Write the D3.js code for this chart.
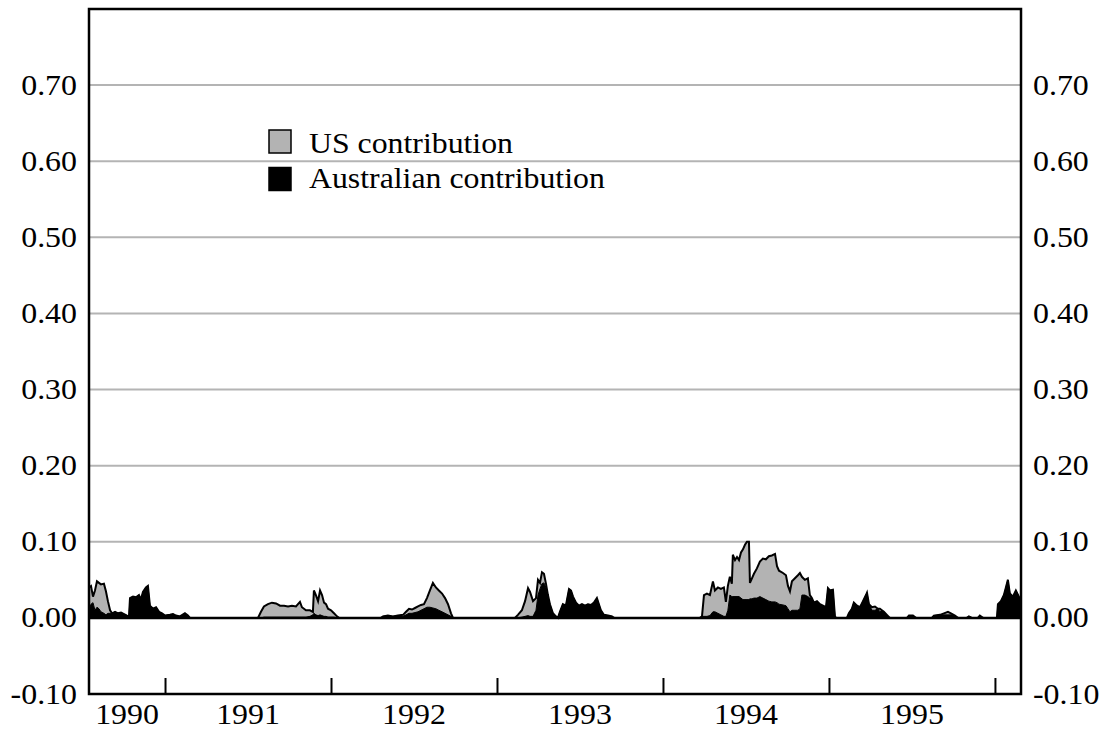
<!DOCTYPE html>
<html>
<head>
<meta charset="utf-8">
<script src="https://cdn.jsdelivr.net/npm/d3@7"></script>
<style>
  body { margin: 0; background: #fff; }
  text { font-family: "Liberation Serif", "Times New Roman", serif; fill: #000; }
</style>
</head>
<body>
<div id="chart"></div>
<script>
'use strict';

// observation dates as decimal years
const obsYear = [
    1990.542, 1990.554, 1990.566, 1990.578, 1990.590, 1990.602, 1990.614, 1990.632, 1990.644, 1990.656,
    1990.669, 1990.681, 1990.699, 1990.717, 1990.735, 1990.753, 1990.771, 1990.783, 1990.789, 1990.807,
    1990.825, 1990.843, 1990.855, 1990.867, 1990.885, 1990.897, 1990.909, 1990.928, 1990.946, 1990.964,
    1990.982, 1991.000, 1991.030, 1991.048, 1991.066, 1991.090, 1991.120, 1991.138, 1991.150,
    1991.560, 1991.578, 1991.596, 1991.620, 1991.644, 1991.669, 1991.693, 1991.717, 1991.741, 1991.765,
    1991.789, 1991.813, 1991.825, 1991.849, 1991.873, 1991.891, 1991.897, 1991.909, 1991.922, 1991.934,
    1991.946, 1991.958, 1991.970, 1991.982, 1992.000, 1992.018, 1992.036, 1992.048,
    1992.301, 1992.313, 1992.343, 1992.373, 1992.403, 1992.434, 1992.452, 1992.470, 1992.488, 1992.506,
    1992.524, 1992.542, 1992.560, 1992.578, 1992.596, 1992.614, 1992.632, 1992.650, 1992.669, 1992.687,
    1992.705, 1992.723, 1992.735,
    1993.108, 1993.126, 1993.150, 1993.169, 1993.187, 1993.199, 1993.217, 1993.235, 1993.247, 1993.259,
    1993.271, 1993.283, 1993.295, 1993.307, 1993.319, 1993.337, 1993.355, 1993.367, 1993.379, 1993.397,
    1993.415, 1993.434, 1993.446, 1993.458, 1993.476, 1993.494, 1993.512, 1993.530, 1993.548, 1993.566,
    1993.584, 1993.602, 1993.614, 1993.626, 1993.644, 1993.669, 1993.693, 1993.705,
    1994.223, 1994.235, 1994.247, 1994.265, 1994.283, 1994.301, 1994.313, 1994.331, 1994.349, 1994.367,
    1994.379, 1994.391, 1994.403, 1994.415, 1994.421, 1994.434, 1994.446, 1994.458, 1994.470, 1994.482,
    1994.494, 1994.506, 1994.518, 1994.524, 1994.536, 1994.548, 1994.566, 1994.584, 1994.602, 1994.620,
    1994.638, 1994.656, 1994.675, 1994.687, 1994.699, 1994.723, 1994.741, 1994.753, 1994.765, 1994.777,
    1994.795, 1994.813, 1994.825, 1994.837, 1994.855, 1994.873, 1994.885, 1994.897, 1994.909, 1994.928,
    1994.946, 1994.964, 1994.982, 1994.994, 1995.006, 1995.024, 1995.036, 1995.042,
    1995.108, 1995.120, 1995.138, 1995.150, 1995.169, 1995.187, 1995.205, 1995.223, 1995.229, 1995.241,
    1995.259, 1995.277, 1995.295, 1995.307, 1995.319, 1995.331, 1995.349, 1995.367,
    1995.470, 1995.482, 1995.506, 1995.524, 1995.620, 1995.632, 1995.669, 1995.693, 1995.717, 1995.735,
    1995.759, 1995.777, 1995.831, 1995.843, 1995.861, 1995.897, 1995.909, 1995.928,
    1996.012, 1996.018, 1996.036, 1996.054, 1996.066, 1996.078, 1996.090, 1996.108, 1996.126, 1996.144,
    1996.156
];

const ausContribution = [
    .012, .018, .020, .010, .014, .012, .008, .006, .004, .006,
    .006, .006, .008, .006, .007, .005, .003, .002, .026, .028,
    .027, .030, .024, .034, .040, .042, .016, .012, .014, .008,
    .006, .003, .004, .005, .003, .002, .006, .003, 0,
    0, 0, .001, .001, .001, .001, .001, .001, .001, .001,
    .001, .001, .001, .001, .002, .004, .006, .004, .003, .004,
    .003, .002, .002, .001, .001, .001, 0, 0,
    0, .002, .003, .002, .003, .002, .004, .006, .006, .007,
    .008, .010, .012, .014, .014, .013, .012, .010, .008, .006,
    .004, .002, 0,
    0, 0, .001, .002, .003, .002, .002, .010, .030, .038,
    .045, .046, .040, .028, .018, .006, .002, 0, .008, .018,
    .016, .038, .036, .028, .020, .016, .018, .016, .018, .017,
    .020, .026, .018, .010, .004, .003, .002, 0,
    0, .002, .002, .002, .003, .008, .008, .006, .004, .002,
    .002, .010, .030, .028, .028, .028, .028, .028, .026, .024,
    .024, .024, .024, .025, .025, .026, .026, .028, .026, .024,
    .022, .021, .021, .020, .018, .017, .016, .012, .008, .010,
    .010, .010, .012, .030, .030, .028, .026, .026, .020, .022,
    .018, .016, .014, .039, .036, .037, .002, 0,
    0, .006, .012, .020, .016, .014, .022, .030, .033, .018,
    .010, .010, .012, .008, .010, .008, .004, 0,
    0, .003, .003, 0, 0, .003, .004, .004, .004, .004,
    .003, 0, 0, .002, 0, 0, .003, 0,
    0, .018, .022, .030, .040, .050, .032, .028, .036, .028,
    .020
];

const usContribution = [
    .028, .024, .008, .026, .034, .034, .036, .039, .031, .016,
    .004, 0, 0, 0, 0, 0, 0, 0, 0, 0,
    0, 0, 0, 0, 0, 0, 0, 0, 0, 0,
    0, 0, 0, 0, 0, 0, 0, 0, 0,
    0, .008, .014, .017, .019, .018, .015, .015, .014, .015,
    .014, .020, .013, .009, .008, .004, .030, .026, .019, .032,
    .027, .018, .016, .011, .009, .005, .002, 0,
    0, 0, 0, 0, 0, .002, .004, .006, .005, .006,
    .007, .007, .006, .012, .022, .033, .028, .026, .024, .020,
    .014, .004, 0,
    0, .004, .009, .020, .036, .032, .020, .016, .020, .008,
    .015, .012, .005, .002, 0, 0, 0, 0, 0, 0,
    0, 0, 0, 0, 0, 0, 0, 0, 0, 0,
    0, 0, 0, 0, 0, 0, 0, 0,
    0, 0, .028, .030, .027, .040, .028, .034, .034, .038,
    .019, .032, .024, .017, .055, .048, .052, .048, .060, .066,
    .072, .076, .076, .021, .027, .032, .039, .046, .052, .053,
    .059, .061, .063, .048, .044, .042, .040, .030, .027, .038,
    .042, .046, .047, .024, .020, .024, .004, 0, 0, 0,
    0, 0, 0, 0, 0, 0, 0, 0,
    0, 0, 0, 0, 0, 0, 0, 0, 0, 0,
    .004, .005, 0, .004, 0, 0, 0, 0,
    0, 0, 0, 0, 0, 0, 0, .002, .004, .002,
    0, 0, 0, 0, 0, 0, 0, 0,
    0, 0, 0, 0, 0, 0, 0, 0, 0, 0,
    0
];

const yTicks = [-0.1, 0, 0.1, 0.2, 0.3, 0.4, 0.5, 0.6, 0.7];
const yearTicks = [1991, 1992, 1993, 1994, 1995, 1996];
const yearLabels = [1990, 1991, 1992, 1993, 1994, 1995];
const seriesNames = ["US contribution", "Australian contribution"];

const xDomain = [1990.542, 1996.157];
const yDomain = [-0.1, 0.8];

let margin = { top: 9, right: 85, bottom: 37, left: 89 },
    width = 1106 - margin.left - margin.right,
    height = 731 - margin.top - margin.bottom;

const textStretch = 1.1;

let x = d3.scaleLinear().domain(xDomain).range([0, width]);
let y = d3.scaleLinear().domain(yDomain).range([height, 0]);

let svg = d3.select("#chart").append("svg")
    .attr("width", 1106)
    .attr("height", 731)
    .append("g")
    .attr("transform", "translate(" + margin.left + "," + margin.top + ")");

// gridlines
svg.selectAll(".grid")
    .data(yTicks.filter(d => d > 0))
    .enter().append("line")
    .attr("class", "grid")
    .attr("x1", 0).attr("x2", width)
    .attr("y1", d => y(d)).attr("y2", d => y(d))
    .attr("stroke", "#b4b4b4")
    .attr("stroke-width", 2);

// stacked areas
let rows = obsYear.map((t, i) => ({ t: t, aus: ausContribution[i], us: usContribution[i] }));
let stacked = d3.stack().keys(["aus", "us"])(rows);

let area = d3.area()
    .x(d => x(d.data.t))
    .y0(d => y(d[0]))
    .y1(d => y(d[1]));

svg.append("path")
    .datum(stacked[1])
    .attr("d", area)
    .attr("fill", "#b3b3b3");

svg.append("path")
    .datum(stacked[0])
    .attr("d", area)
    .attr("fill", "#000")
    .attr("stroke", "#000")
    .attr("stroke-width", 1);

svg.append("path")
    .datum(stacked[1])
    .attr("d", d3.line().x(d => x(d.data.t)).y(d => y(d[1])))
    .attr("fill", "none")
    .attr("stroke", "#000")
    .attr("stroke-width", 2)
    .attr("stroke-linejoin", "miter");

// zero line
svg.append("line")
    .attr("x1", 0).attr("x2", width)
    .attr("y1", y(0)).attr("y2", y(0))
    .attr("stroke", "#000")
    .attr("stroke-width", 2.5);

// year ticks pointing up from the bottom
let xAxis = d3.axisBottom(x)
    .tickValues(yearTicks)
    .tickSize(-16)
    .tickSizeOuter(0)
    .tickFormat("");

let xg = svg.append("g")
    .attr("class", "x axis")
    .attr("transform", "translate(0," + height + ")")
    .call(xAxis);
xg.select(".domain").remove();
xg.selectAll("line").attr("stroke", "#000").attr("stroke-width", 2);

// year labels centred in each year span
svg.selectAll(".yearLabel")
    .data(yearLabels)
    .enter().append("text")
    .attr("class", "yearLabel")
    .attr("text-anchor", "middle")
    .style("font-size", "29px")
    .attr("transform", d => {
        let a = x(Math.max(d, xDomain[0])), b = x(Math.min(d + 1, xDomain[1]));
        return "translate(" + ((a + b) / 2) + "," + (height + 30) + ") scale(" + textStretch + ",1)";
    })
    .text(d => d);

// y labels both sides
[{ xp: -12, anchor: "end" }, { xp: width + 12, anchor: "start" }].forEach(side => {
    svg.selectAll(null)
        .data(yTicks)
        .enter().append("text")
        .attr("text-anchor", side.anchor)
        .style("font-size", "29px")
        .attr("transform", d => "translate(" + side.xp + "," + (y(d) + 9.5) + ") scale(" + textStretch + ",1)")
        .text(d => d.toFixed(2));
});

// frame
svg.append("rect")
    .attr("x", 0).attr("y", 0)
    .attr("width", width).attr("height", height)
    .attr("fill", "none")
    .attr("stroke", "#000")
    .attr("stroke-width", 2.5);

// legend
let legend = svg.append("g")
    .attr("transform", "translate(" + (268 - margin.left) + "," + (129 - margin.top) + ")");

legend.selectAll("rect")
    .data(seriesNames)
    .enter().append("rect")
    .attr("x", 1).attr("y", (d, i) => i * 37.5 + 1)
    .attr("width", 22).attr("height", 23)
    .attr("fill", (d, i) => i === 0 ? "#b3b3b3" : "#000")
    .attr("stroke", "#000")
    .attr("stroke-width", 1.5);

legend.selectAll("text")
    .data(seriesNames)
    .enter().append("text")
    .style("font-size", "30px")
    .attr("transform", (d, i) => "translate(41," + (24 + i * 35) + ") scale(1.06,1)")
    .text(d => d);
</script>
</body>
</html>
